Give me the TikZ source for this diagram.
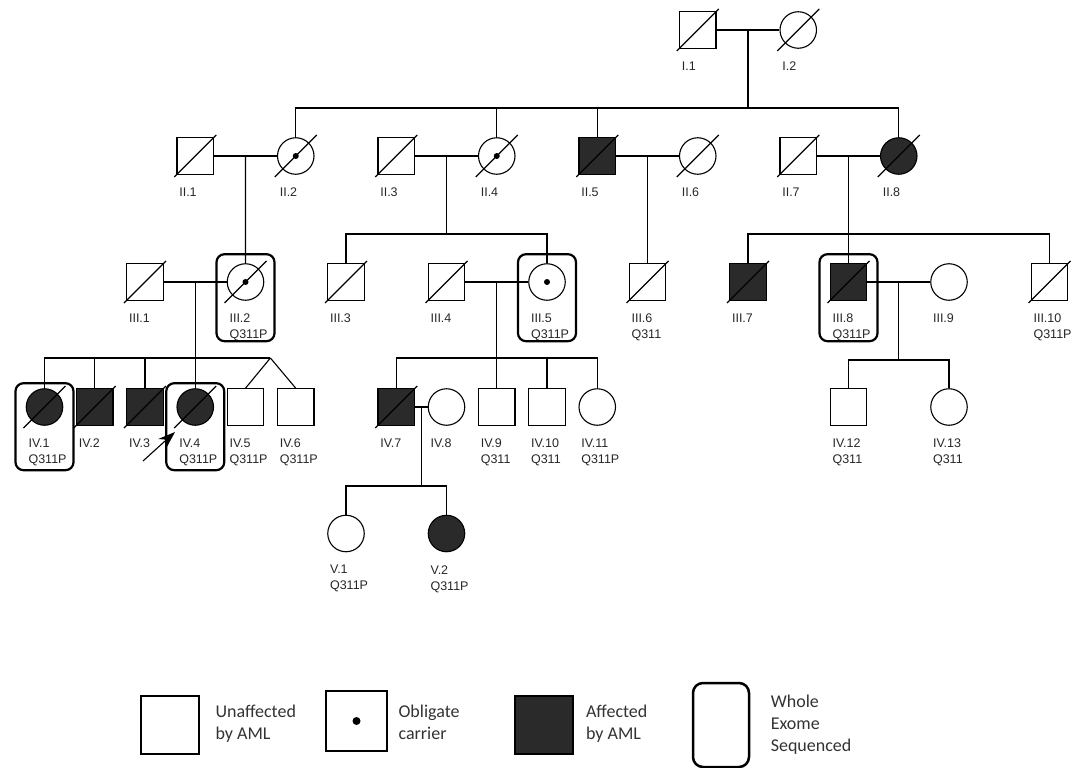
\documentclass[tikz,border=0pt]{standalone}
\usepackage{fontspec}
\setmainfont{Liberation Sans}
\newfontfamily\legfont{Carlito}
\usetikzlibrary{arrows.meta,calc,positioning}
\definecolor{affgray}{HTML}{2A2A2A}

\begin{document}
\begin{tikzpicture}[x=1pt,y=-1pt,>=Stealth,line width=1.1pt,
  ind/.style={draw,minimum size=36.5pt,inner sep=0pt,line width=1.1pt},
  male/.style={ind,rectangle},
  female/.style={ind,circle},
  aff/.style={fill=affgray},
  lbl/.style={anchor=north west,xshift=-16.5pt,yshift=-12.5pt,inner sep=0pt,
              align=left,font=\fontsize{12.5}{16}\selectfont,text=black!85},
  pid/.style={label={[lbl]below:#1}},
  wes/.style={line width=2.2pt,rounded corners=8pt},
  legbox/.style={draw,line width=2pt,minimum width=58pt,minimum height=58pt,inner sep=0pt},
  legtxt/.style={inner sep=0pt,align=left,font=\legfont\fontsize{18}{22}\selectfont,text=black!80}]
\useasboundingbox (0,0) rectangle (1072,768);

% generation I
\node[male,pid=I.1] (I1) at (697.75,30) {};
\node[female,pid=I.2] (I2) at (798.25,30) {};
% generation II
\node[male,pid=II.1] (II1) at (195.25,156) {};
\node[female,pid=II.2] (II2) at (295.75,156) {};
\node[male,pid=II.3] (II3) at (396.25,156) {};
\node[female,pid=II.4] (II4) at (496.75,156) {};
\node[male,aff,pid=II.5] (II5) at (597.25,156) {};
\node[female,pid=II.6] (II6) at (697.75,156) {};
\node[male,pid=II.7] (II7) at (798.25,156) {};
\node[female,aff,pid=II.8] (II8) at (898.75,156) {};
% generation III
\node[male,pid=III.1] (III1) at (145,282) {};
\node[female,pid=III.2\\Q311P] (III2) at (245.5,282) {};
\node[male,pid=III.3] (III3) at (346,282) {};
\node[male,pid=III.4] (III4) at (446.5,282) {};
\node[female,pid=III.5\\Q311P] (III5) at (547,282) {};
\node[male,pid=III.6\\Q311] (III6) at (647.5,282) {};
\node[male,aff,pid=III.7] (III7) at (748,282) {};
\node[male,aff,pid=III.8\\Q311P] (III8) at (848.5,282) {};
\node[female,pid=III.9] (III9) at (949,282) {};
\node[male,pid=III.10\\Q311P] (III10) at (1049.5,282) {};
% generation IV
\node[female,aff,pid=IV.1\\Q311P] (IV1) at (44.5,407) {};
\node[male,aff,pid=IV.2] (IV2) at (94.75,407) {};
\node[male,aff,pid=IV.3] (IV3) at (145,407) {};
\node[female,aff,pid=IV.4\\Q311P] (IV4) at (195.25,407) {};
\node[male,pid=IV.5\\Q311P] (IV5) at (245.5,407) {};
\node[male,pid=IV.6\\Q311P] (IV6) at (295.75,407) {};
\node[male,aff,pid=IV.7] (IV7) at (396.25,407) {};
\node[female,pid=IV.8] (IV8) at (446.5,407) {};
\node[male,pid=IV.9\\Q311] (IV9) at (496.75,407) {};
\node[male,pid=IV.10\\Q311] (IV10) at (547,407) {};
\node[female,pid=IV.11\\Q311P] (IV11) at (597.25,407) {};
\node[male,pid=IV.12\\Q311] (IV12) at (848.5,407) {};
\node[female,pid=IV.13\\Q311] (IV13) at (949,407) {};
% generation V
\node[female,pid=V.1\\Q311P] (V1) at (346,533.5) {};
\node[female,aff,pid=V.2\\Q311P] (V2) at (446.5,533.5) {};

% deceased
\foreach \n in {I1,I2,II1,II2,II3,II4,II5,II6,II7,II8,III1,III2,III3,III4,III6,III7,III8,III10,
                IV1,IV2,IV3,IV4,IV7}
  \draw ([shift={(-21,21)}]\n.center) -- ([shift={(21,-21)}]\n.center);
% obligate carriers
\foreach \n in {II2,II4,III2,III5}
  \fill (\n.center) circle[radius=3pt];

% couples
\draw (I1) -- (I2);
\draw (II1) -- (II2);
\draw (II3) -- (II4);
\draw (II5) -- (II6);
\draw (II7) -- (II8);
\draw (III1) -- (III2);
\draw (III4) -- (III5);
\draw (III8) -- (III9);
\draw (IV7) -- (IV8);
\coordinate (mI) at ($(I1.east)!0.5!(I2.west)$);
\coordinate (mII1) at ($(II1.east)!0.5!(II2.west)$);
\coordinate (mII3) at ($(II3.east)!0.5!(II4.west)$);
\coordinate (mII5) at ($(II5.east)!0.5!(II6.west)$);
\coordinate (mII7) at ($(II7.east)!0.5!(II8.west)$);
\coordinate (mIII1) at ($(III1.east)!0.5!(III2.west)$);
\coordinate (mIII4) at ($(III4.east)!0.5!(III5.west)$);
\coordinate (mIII8) at ($(III8.east)!0.5!(III9.west)$);
\coordinate (mIV7) at ($(IV7.east)!0.5!(IV8.west)$);

% sibships
\coordinate (sII) at (748,108);
\draw (mI) -- (mI |- sII);
\draw (II2.north) -- (II2.north |- sII) -- (II8.north |- sII) -- (II8.north);
\foreach \n in {II4,II5}
  \draw (\n.north) -- (\n.north |- sII);

\draw (mII1) -- (III2.north);
\draw (mII5) -- (mII5 |- III6.north);

\coordinate (sIIIa) at (446.5,234);
\draw (mII3) -- (mII3 |- sIIIa);
\draw (III3.north) -- (III3.north |- sIIIa) -- (III5.north |- sIIIa) -- (III5.north);

\coordinate (sIIIb) at (848.5,234);
\draw (mII7) -- (mII7 |- sIIIb);
\draw (III7.north) -- (III7.north |- sIIIb) -- (III10.north |- sIIIb) -- (III10.north);
\draw (III8.north) -- (III8.north |- sIIIb);

\coordinate (tw) at (270.4,358);
\draw (mIII1) -- (mIII1 |- tw);
\draw (IV1.north) -- (IV1.north |- tw) -- (tw);
\foreach \n in {IV2,IV3,IV4}
  \draw (\n.north) -- (\n.north |- tw);
\draw (tw) -- (IV5.north);
\draw (tw) -- (IV6.north);

\coordinate (sIVb) at (496.75,358);
\draw (mIII4) -- (mIII4 |- sIVb);
\draw (IV7.north) -- (IV7.north |- sIVb) -- (IV11.north |- sIVb) -- (IV11.north);
\foreach \n in {IV9,IV10}
  \draw (\n.north) -- (\n.north |- sIVb);

\coordinate (sIVc) at (898.75,360);
\draw (mIII8) -- (mIII8 |- sIVc);
\draw (IV12.north) -- (IV12.north |- sIVc) -- (IV13.north |- sIVc) -- (IV13.north);

\coordinate (sV) at (421.4,486);
\draw (mIV7) -- (mIV7 |- sV);
\draw (V1.north) -- (V1.north |- sV) -- (V2.north |- sV) -- (V2.north);

% whole exome sequenced
\foreach \n in {III2,III5,III8}
  \draw[wes] ([shift={(-29,-9)}]\n.north) rectangle ++(58,87);
\foreach \n in {IV1,IV4}
  \draw[wes] ([shift={(-29,-5)}]\n.north) rectangle ++(58,87);

% proband
\coordinate (pbtail) at (143,461);
\coordinate (pbtip) at (175,432);
\draw[-{Stealth[length=17pt,width=12pt]}] (pbtail) -- (pbtip);

% legend
\node[legbox] (lunaff) at (170,725) {};
\node[legtxt,right=15pt of lunaff,yshift=1pt] (tunaff) {Unaffected\\by AML};
\node[legbox,minimum width=61pt,minimum height=60pt] (lcarr) at (356.5,721) {};
\fill (lcarr.center) circle[radius=4pt];
\node[legtxt,right=10pt of lcarr,yshift=-1pt] (tcarr) {Obligate\\carrier};
\node[legbox,fill=affgray] (laff) at (543.5,725) {};
\node[legtxt,right=12pt of laff,yshift=1pt] (taff) {Affected\\by AML};
\node[legbox,line width=2.5pt,rounded corners=10pt,minimum width=56pt,minimum height=84pt] (lwes) at (721,725) {};
\node[legtxt,right=20pt of lwes] (twes) {Whole\\Exome\\Sequenced};
\end{tikzpicture}
\end{document}
